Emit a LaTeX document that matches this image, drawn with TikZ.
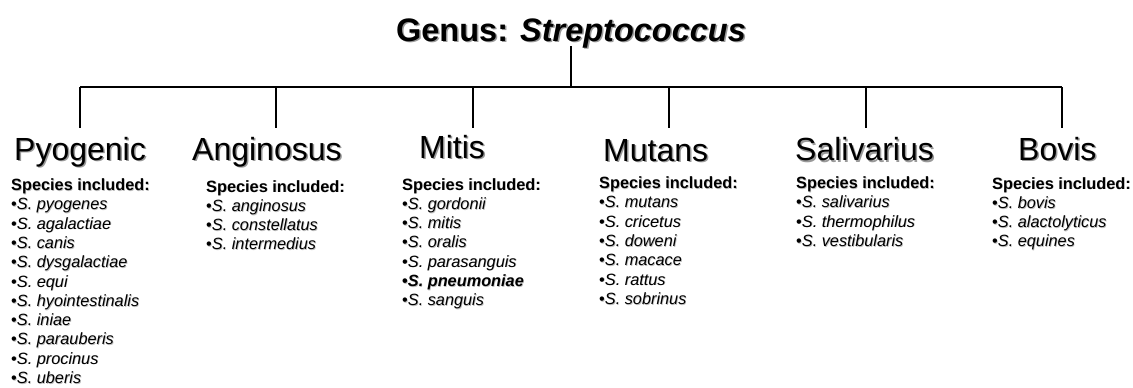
\documentclass[tikz,border=0pt]{standalone}
\usepackage{fontspec}
\setmainfont{Liberation Sans}
\definecolor{shadowgray}{gray}{0.6}
\definecolor{lightshadow}{gray}{0.75}
\newcommand\shd[3]{\makebox[0pt][l]{\kern#1\raisebox{-#1}{\color{#2}#3}}#3}
\newcommand\itm[1]{\hbox{\shd{0.7bp}{lightshadow}{•\textit{S. #1}}}}
\newcommand\itmb[1]{\hbox{\shd{0.7bp}{lightshadow}{\bfseries•\textit{S. #1}}}}
\newcommand\splist[1]{\vtop{\setlength\baselineskip{19.3bp}\setlength\lineskiplimit{-10bp}\hbox{\shd{0.7bp}{lightshadow}{\bfseries Species included:}}#1}}
\tikzset{
  heading/.style={anchor=base west, inner sep=0pt, font=\fontsize{32bp}{36bp}\selectfont},
  titlestyle/.style={anchor=base, inner sep=0pt, font=\fontsize{32.5bp}{36bp}\selectfont\bfseries},
  listnode/.style={anchor=base west, inner sep=0pt, font=\fontsize{16.3bp}{19.3bp}\selectfont},
  branch/.style={line width=1.3bp, black}
}
\begin{document}
\begin{tikzpicture}[x=1bp,y=-1bp]
\useasboundingbox (0,0) rectangle (1133,387);
% title
\node[titlestyle] (title) at (571,41) {\shd{1.5bp}{shadowgray}{Genus: \textit{Streptococcus}}};
% junction coordinates
\coordinate (tbot) at (571,46);
\coordinate (tjun) at (571,87);
\coordinate (jpyo) at (80,87);   \coordinate (epyo) at (80,128);
\coordinate (jang) at (276,87);  \coordinate (eang) at (276,128);
\coordinate (jmit) at (473,87);  \coordinate (emit) at (473,128);
\coordinate (jmut) at (669,87);  \coordinate (emut) at (669,128);
\coordinate (jsal) at (866,87);  \coordinate (esal) at (866,128);
\coordinate (jbov) at (1062,87); \coordinate (ebov) at (1062,128);
\draw[branch] (tbot) -- (tjun);
\draw[branch] (jpyo) -- (jbov);
\draw[branch] (jpyo) -- (epyo);
\draw[branch] (jang) -- (eang);
\draw[branch] (jmit) -- (emit);
\draw[branch] (jmut) -- (emut);
\draw[branch] (jsal) -- (esal);
\draw[branch] (jbov) -- (ebov);
% headings
\node[heading] (pyo) at (14,160) {\shd{1.5bp}{shadowgray}{Pyogenic}};
\node[heading] (ang) at (192,160) {\shd{1.5bp}{shadowgray}{Anginosus}};
\node[heading] (mit) at (419,158) {\shd{1.5bp}{shadowgray}{Mitis}};
\node[heading] (mut) at (603,161) {\shd{1.5bp}{shadowgray}{Mutans}};
\node[heading] (sal) at (795,160.5) {\shd{1.5bp}{shadowgray}{Salivarius}};
\node[heading] (bov) at (1018,160) {\shd{1.5bp}{shadowgray}{Bovis}};
% species lists
\node[listnode] (lpyo) at (11,190.5) {\splist{\itm{pyogenes}\itm{agalactiae}\itm{canis}\itm{dysgalactiae}\itm{equi}\itm{hyointestinalis}\itm{iniae}\itm{parauberis}\itm{procinus}\itm{uberis}}};
\node[listnode] (lang) at (206,192) {\splist{\itm{anginosus}\itm{constellatus}\itm{intermedius}}};
\node[listnode] (lmit) at (402,190) {\splist{\itm{gordonii}\itm{mitis}\itm{oralis}\itm{parasanguis}\itmb{pneumoniae}\itm{sanguis}}};
\node[listnode] (lmut) at (599,188.5) {\splist{\itm{mutans}\itm{cricetus}\itm{doweni}\itm{macace}\itm{rattus}\itm{sobrinus}}};
\node[listnode] (lsal) at (796,188.5) {\splist{\itm{salivarius}\itm{thermophilus}\itm{vestibularis}}};
\node[listnode] (lbov) at (992,189) {\splist{\itm{bovis}\itm{alactolyticus}\itm{equines}}};
\end{tikzpicture}
\end{document}
